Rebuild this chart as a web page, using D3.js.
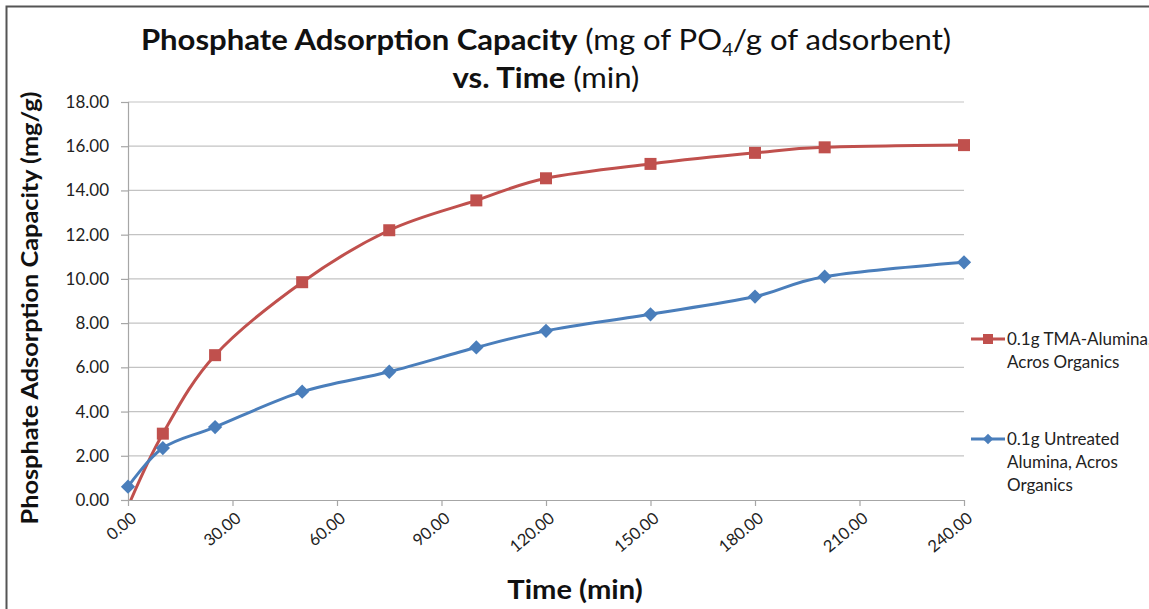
<!DOCTYPE html>
<html>
<head>
<meta charset="utf-8">
<script src="https://cdn.jsdelivr.net/npm/d3@7"></script>
<style>
  body { margin: 0; background: #fff; }
  svg { display: block; font-family: Lato, "Open Sans", sans-serif; }
</style>
</head>
<body>
<svg id="chart" width="1149" height="609"></svg>
<script>
// data
var times = [0, 10, 25, 50, 75, 100, 120, 150, 180, 200, 240];
var tmaValues = [-0.3, 3.0, 6.55, 9.85, 12.2, 13.55, 14.55, 15.2, 15.7, 15.95, 16.05];
var untreatedValues = [0.6, 2.35, 3.3, 4.9, 5.8, 6.9, 7.65, 8.4, 9.2, 10.1, 10.75];
var xTicks = [0, 30, 60, 90, 120, 150, 180, 210, 240];
var yTicks = [0, 2, 4, 6, 8, 10, 12, 14, 16, 18];
var seriesNames = [
  ["0.1g TMA-Alumina,", "Acros Organics"],
  ["0.1g Untreated", "Alumina, Acros", "Organics"]
];

var svg = d3.select("#chart");
var plot = {left: 128, right: 964, top: 102, bottom: 500};

var x = d3.scaleLinear().domain([0, 240]).range([plot.left, plot.right]);
var y = d3.scaleLinear().domain([0, 18]).range([plot.bottom, plot.top]);

// outer frame (only top/left show)
svg.append("rect")
  .attr("x", 6.5).attr("y", 6.5)
  .attr("width", 1200).attr("height", 700)
  .attr("fill", "none")
  .attr("stroke", "#555")
  .attr("stroke-width", 2);

// gridlines
svg.append("g")
  .selectAll("line")
  .data(yTicks.slice(1))
  .enter()
  .append("line")
  .attr("x1", plot.left).attr("x2", plot.right)
  .attr("y1", function(d){ return y(d); })
  .attr("y2", function(d){ return y(d); })
  .attr("stroke", "#c3c3c3")
  .attr("stroke-width", 1.2);

// y axis
var yAxis = svg.append("g")
  .attr("transform", "translate(" + plot.left + ",0)")
  .call(d3.axisLeft(y).tickValues(yTicks).tickFormat(d3.format(".2f")).tickSize(7).tickPadding(12));
yAxis.select(".domain").attr("stroke", "#a6a6a6").attr("stroke-width", 1.2);
yAxis.selectAll(".tick line").attr("stroke", "#a6a6a6").attr("stroke-width", 1.2);
yAxis.selectAll(".tick text")
  .attr("font-size", 17)
  .attr("font-family", "Lato, sans-serif")
  .attr("fill", "#222");

// x axis
var xAxis = svg.append("g")
  .attr("transform", "translate(0," + plot.bottom + ")")
  .call(d3.axisBottom(x).tickValues(xTicks).tickFormat(d3.format(".2f")).tickSize(6).tickSizeOuter(0));
xAxis.select(".domain").attr("stroke", "#a6a6a6").attr("stroke-width", 1.2);
xAxis.selectAll(".tick line").attr("stroke", "#a6a6a6").attr("stroke-width", 1.2);
xAxis.selectAll(".tick text")
  .attr("font-size", 16.5)
  .attr("font-family", "Lato, sans-serif")
  .attr("fill", "#222")
  .attr("text-anchor", "end")
  .attr("dy", null)
  .attr("y", 0)
  .attr("transform", "translate(9,20) rotate(-40)");

// clip to plot area
svg.append("clipPath").attr("id", "plotClip")
  .append("rect")
  .attr("x", plot.left).attr("y", plot.top - 10)
  .attr("width", plot.right - plot.left + 20)
  .attr("height", plot.bottom - plot.top + 10);

var line = d3.line()
  .x(function(d){ return x(d[0]); })
  .y(function(d){ return y(d[1]); })
  .curve(d3.curveCatmullRom.alpha(0));

var redData = times.map(function(t, i){ return [t, tmaValues[i]]; });
var blueData = times.map(function(t, i){ return [t, untreatedValues[i]]; });
var red = "#c0504d", blue = "#4a7ebb";

svg.append("path")
  .datum(redData)
  .attr("clip-path", "url(#plotClip)")
  .attr("d", line)
  .attr("fill", "none")
  .attr("stroke", red)
  .attr("stroke-width", 3);

svg.append("path")
  .datum(blueData)
  .attr("d", line)
  .attr("fill", "none")
  .attr("stroke", blue)
  .attr("stroke-width", 3);

// markers
svg.append("g")
  .selectAll("rect")
  .data(redData.filter(function(d){ return d[1] >= 0; }))
  .enter()
  .append("rect")
  .attr("x", function(d){ return x(d[0]) - 6; })
  .attr("y", function(d){ return y(d[1]) - 6; })
  .attr("width", 12).attr("height", 12)
  .attr("fill", red);

var diamond = d3.symbol().type(d3.symbolDiamond2).size(130);
svg.append("g")
  .selectAll("path")
  .data(blueData)
  .enter()
  .append("path")
  .attr("d", diamond)
  .attr("transform", function(d){ return "translate(" + x(d[0]) + "," + y(d[1]) + ")"; })
  .attr("fill", blue);

// titles (reference text is a bit wider, stretch horizontally)
var title = svg.append("text")
  .attr("transform", "translate(546,50) scale(1.11,1)")
  .attr("text-anchor", "middle")
  .attr("font-size", 28)
  .attr("fill", "#111");
title.append("tspan").attr("font-weight", "bold").text("Phosphate Adsorption Capacity");
title.append("tspan").text(" (mg of PO");
title.append("tspan").attr("font-size", 17).attr("dy", 6).text("4");
title.append("tspan").attr("dy", -6).text("/g of adsorbent)");

var title2 = svg.append("text")
  .attr("transform", "translate(546,88) scale(1.11,1)")
  .attr("text-anchor", "middle")
  .attr("font-size", 28)
  .attr("fill", "#111");
title2.append("tspan").attr("font-weight", "bold").text("vs. Time");
title2.append("tspan").text(" (min)");

svg.append("text")
  .attr("transform", "translate(38,308) rotate(-90) scale(1.1,1)")
  .attr("text-anchor", "middle")
  .attr("font-size", 23)
  .attr("font-weight", "bold")
  .attr("fill", "#111")
  .text("Phosphate Adsorption Capacity (mg/g)");

svg.append("text")
  .attr("transform", "translate(575,599) scale(1.12,1)")
  .attr("text-anchor", "middle")
  .attr("font-size", 26)
  .attr("font-weight", "bold")
  .attr("fill", "#111")
  .text("Time (min)");

// legend
var legend = [
  {name: seriesNames[0], color: red, shape: "square", y: 339},
  {name: seriesNames[1], color: blue, shape: "diamond", y: 439}
];
legend.forEach(function(item){
  var g = svg.append("g").attr("transform", "translate(971," + item.y + ")");
  g.append("line").attr("x1", 0).attr("x2", 34).attr("stroke", item.color).attr("stroke-width", 3);
  if (item.shape == "square"){
    g.append("rect").attr("x", 12).attr("y", -5).attr("width", 10).attr("height", 10).attr("fill", item.color);
  } else {
    g.append("path").attr("d", d3.symbol().type(d3.symbolDiamond2).size(70)).attr("transform", "translate(17,0)").attr("fill", item.color);
  }
  g.selectAll("text")
    .data(item.name)
    .enter()
    .append("text")
    .attr("x", 36)
    .attr("y", function(d, i){ return 6 + i * 23; })
    .attr("font-size", 17)
    .attr("fill", "#222")
    .text(function(d){ return d; });
});
</script>
</body>
</html>
